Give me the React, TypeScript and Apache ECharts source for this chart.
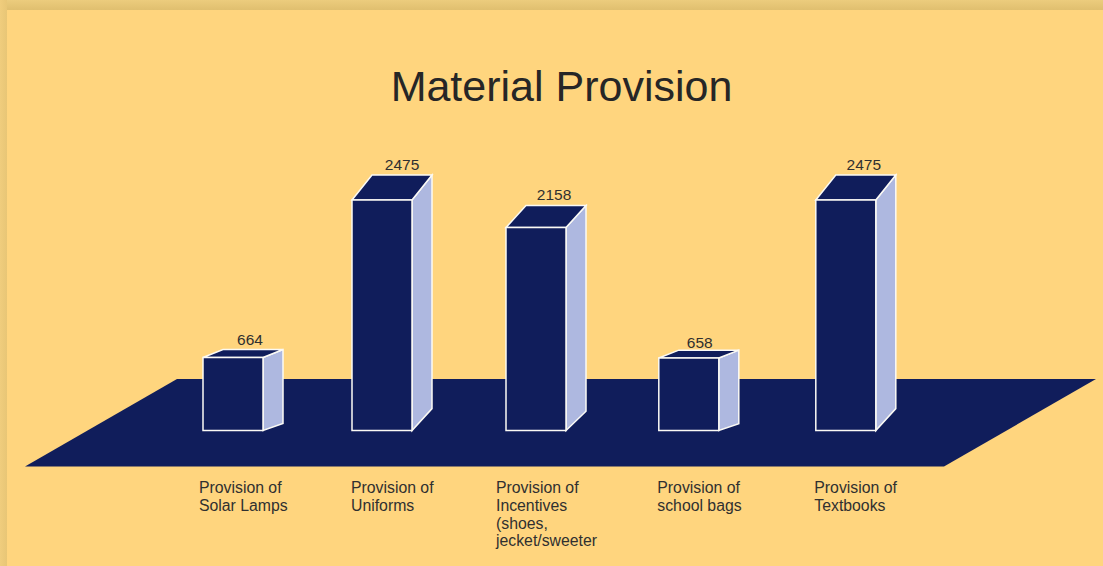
import React, { useEffect, useRef } from "react";
import * as echarts from "echarts";

const categories = [
  "Provision of\nSolar Lamps",
  "Provision of\nUniforms",
  "Provision of\nIncentives\n(shoes,\njecket/sweeter",
  "Provision of\nschool bags",
  "Provision of\nTextbooks",
];
const values = [664, 2475, 2158, 658, 2475];
const titleText = "Material Provision";

// Hand spacing of the columns and their captions, in pixels from the even category slots.
const slotNudge = [0, -4.2, -3.4, -3.8, 0];
const captionNudge = [-4, -1, -10, -1.5, -1.5];
const valueNudgeX = [-1, 2, 0, -7, 0];
const valueNudgeY = [-1.5, 0, -0.5, 0.5, 0];

const NAVY = "#101d5b";
const SIDE = "#aeb8e0";
const PAPER = "#ffd57e";
const INK = "#303030";
const EDGE = "#fbfaf5";
const FONT = "'Liberation Sans', Arial, sans-serif";
const BAR_W = 60;
const BAR_DX = 20;
const AXIS_MIN = -176;
const AXIS_MAX = 2794;

function renderColumn(params: any, api: any) {
  const i = api.value(0);
  const v = api.value(1);
  const base = api.coord([i, AXIS_MIN]);
  const top = api.coord([i, v]);
  const l = base[0] - BAR_W / 2 + slotNudge[i];
  const r = l + BAR_W;
  const yb = base[1];
  const yt = top[1];
  const h = yb - yt;
  // The receding depth grows with column height, a little less at the foot.
  const dyTop = h * 0.108;
  const dyFoot = dyTop * 0.88;
  const xb = r + BAR_DX;
  const edge = { stroke: EDGE, lineWidth: 1.5, lineJoin: "miter" };
  return {
    type: "group",
    children: [
      {
        type: "polygon",
        shape: { points: [[r, yb], [r, yt], [xb, yt - dyTop], [xb, yb - dyFoot]] },
        style: { fill: SIDE, ...edge },
      },
      {
        type: "polygon",
        shape: { points: [[l, yt], [l + BAR_DX, yt - dyTop], [xb, yt - dyTop], [r, yt]] },
        style: { fill: NAVY, ...edge },
      },
      {
        type: "rect",
        shape: { x: l, y: yt, width: BAR_W, height: h },
        style: { fill: NAVY, ...edge },
      },
      {
        type: "text",
        x: l + BAR_W / 2 + 18 + valueNudgeX[i],
        y: yt - dyTop - (h > 150 ? 10.5 : 8.5) + valueNudgeY[i],
        style: {
          text: String(v),
          font: `15.5px ${FONT}`,
          fill: INK,
          align: "center",
          verticalAlign: "middle",
        },
      },
      {
        type: "text",
        x: l + captionNudge[i],
        y: 479,
        style: {
          text: categories[i],
          font: `15.8px ${FONT}`,
          lineHeight: 17.6,
          fill: INK,
          align: "left",
          verticalAlign: "top",
        },
      },
    ],
  };
}

export default function App() {
  const ref = useRef<HTMLDivElement>(null);
  useEffect(() => {
    document.body.style.margin = "0";
    const chart = echarts.init(ref.current!, null, { renderer: "svg" });
    chart.setOption({
      animation: false,
      backgroundColor: PAPER,
      title: {
        text: titleText,
        left: 556.5,
        top: 59,
        textAlign: "center",
        textStyle: { fontFamily: FONT, fontSize: 43, fontWeight: "normal", color: "#262626" },
      },
      grid: { left: 156.4, width: 766, top: 172.2, height: 258.3 },
      xAxis: { type: "category", data: categories, show: false },
      yAxis: { type: "value", min: AXIS_MIN, max: AXIS_MAX, show: false },
      graphic: [
        {
          type: "rect",
          z: 0,
          shape: { x: 0, y: 0, width: 1103, height: 10 },
          style: {
            fill: new echarts.graphic.LinearGradient(0, 0, 0, 1, [
              { offset: 0, color: "#eccc7d" },
              { offset: 1, color: "#e0bf6f" },
            ]),
          },
        },
        {
          type: "rect",
          z: 0,
          shape: { x: 0, y: 0, width: 7, height: 566 },
          style: {
            fill: new echarts.graphic.LinearGradient(0, 0, 1, 0, [
              { offset: 0, color: "#f0cd7d" },
              { offset: 1, color: "#e8c676" },
            ]),
          },
        },
        {
          type: "polygon",
          z: 0,
          shape: { points: [[25, 466.5], [177, 379], [1096, 379], [944, 466.5]] },
          style: { fill: NAVY },
        },
      ],
      series: [
        {
          type: "custom",
          renderItem: renderColumn,
          clip: false,
          encode: { x: 0, y: 1 },
          data: values.map((v, i) => [i, v]),
        },
      ],
    });
    return () => chart.dispose();
  }, []);
  return <div ref={ref} style={{ width: 1103, height: 566 }} />;
}
